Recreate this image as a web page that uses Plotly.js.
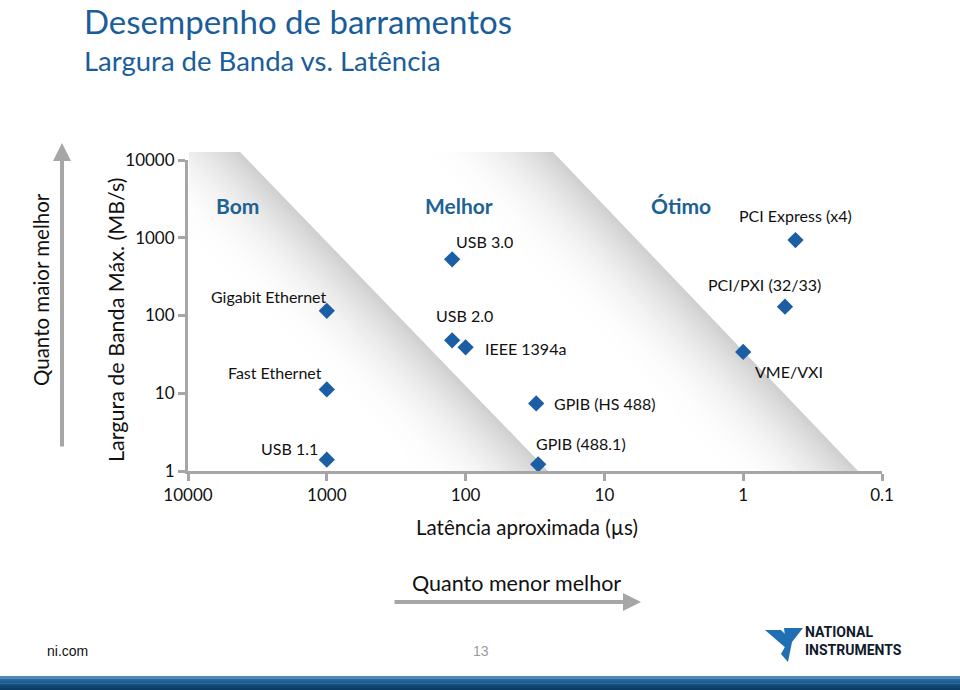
<!DOCTYPE html>
<html>
<head>
<meta charset="utf-8">
<script src="https://cdn.plot.ly/plotly-3.0.1.min.js"></script>
<style>
html,body{margin:0;padding:0;background:#ffffff;}
#chart{width:960px;height:690px;}
</style>
</head>
<body>
<div id="chart"></div>
<script>
// ---------------- DATA ----------------
const busNames = ['Gigabit Ethernet','Fast Ethernet','USB 1.1','USB 3.0','USB 2.0','IEEE 1394a',
                  'GPIB (HS 488)','GPIB (488.1)','PCI Express (x4)','PCI/PXI (32/33)','VME/VXI'];
const latencyUs = [1000, 1000, 1000, 125, 125, 100, 31, 30, 0.42, 0.5, 1];
const bandwidthMBs = [115, 11.2, 1.4, 528, 48, 39, 7.4, 1.22, 935, 130, 34];
const xTickVals = [10000, 1000, 100, 10, 1, 0.1];
const xTickText = ['10000', '1000', '100', '10', '1', '0.1'];
const yTickVals = [1, 10, 100, 1000, 10000];
const yTickText = ['1', '10', '100', '1000', '10000'];
const zoneNames = ['Bom', 'Melhor', 'Ótimo'];

// ---------------- PLACEMENT / STYLE ----------------
const FONT = 'Lato, "Open Sans", sans-serif';
const BLUE = '#1b5ea3';
const AXIS_GRAY = '#a6a6a6';
// label placement per point: [xanchor, xshift(px), yshift(px)]
const labelPlacement = [
  ['right', 2, 14], ['right', -3, 17], ['right', -7, 11],
  ['left', 2, 18], ['left', -18, 25], ['left', 17, -1],
  ['left', 16, 0], ['left', -4, 21],
  ['left', -58, 25], ['left', -79, 22], ['left', 10, -20]
];

// plot area in pixels
const PL = 188, PR = 882, PT = 160, PB = 471;
const W_ = PR - PL, H_ = PB - PT;
const px2x = px => (px - PL) / W_;
const py2y = py => (PB - py) / H_;

// ---------------- BACKGROUND BANDS (gradient strips) ----------------
function clipLeft(poly, xmin) {
  const out = [];
  for (let i = 0; i < poly.length; i++) {
    const a = poly[i], b = poly[(i + 1) % poly.length];
    const ain = a[0] >= xmin, bin = b[0] >= xmin;
    if (ain) out.push(a);
    if (ain !== bin) {
      const t = (xmin - a[0]) / (b[0] - a[0]);
      out.push([xmin, a[1] + t * (b[1] - a[1])]);
    }
  }
  return out;
}
const shapes = [];
const bandEdges = [[240, 548], [553, 858]]; // x at top / bottom in px
const bandTop = 152, bandBot = PB;
const N = 48, GW = 125;
bandEdges.forEach(([xt, xb]) => {
  for (let i = 0; i < N; i++) {
    const d0 = GW * i / N, d1 = GW * (i + 1) / N + 0.6;
    const dm = (d0 + d1) / 2;
    const k = Math.pow(Math.max(0, 1 - dm / GW), 2.0);
    const g = Math.round(254 - 48 * k);
    let poly = [[xt - d1, bandTop], [xt - d0, bandTop], [xb - d0, bandBot], [xb - d1, bandBot]];
    poly = clipLeft(poly, PL + 1);
    if (poly.length < 3) continue;
    const path = 'M' + poly.map(p => px2x(p[0]).toFixed(5) + ',' + py2y(p[1]).toFixed(5)).join('L') + 'Z';
    shapes.push({type: 'path', xref: 'paper', yref: 'paper', path: path,
      fillcolor: 'rgb(' + g + ',' + g + ',' + g + ')', line: {width: 0}, layer: 'below'});
  }
});

// footer bar
const barCols = ['#4d89bb', '#2a6aa0', '#1f5c91', '#174f82', '#104573', '#0b3c66'];
barCols.forEach((c, i) => {
  shapes.push({type: 'rect', xref: 'paper', yref: 'paper',
    x0: px2x(0), x1: px2x(960), y0: py2y(676 + i * 2.4), y1: py2y(676 + (i + 1) * 2.4 + (i === barCols.length - 1 ? 10 : 0.3)),
    fillcolor: c, line: {width: 0}, layer: 'above'});
});
// NI logo mark (approximation)
function pathPx(pts) {
  return 'M' + pts.map(p => px2x(p[0]).toFixed(5) + ',' + py2y(p[1]).toFixed(5)).join('L') + 'Z';
}
shapes.push({type: 'path', xref: 'paper', yref: 'paper', fillcolor: '#1f6fb2', line: {width: 0},
  path: pathPx([[765, 630], [781, 630], [792, 641], [787, 649]])});
shapes.push({type: 'path', xref: 'paper', yref: 'paper', fillcolor: '#1f6fb2', line: {width: 0},
  path: pathPx([[784, 628], [803, 628], [792, 642], [788, 662], [781, 654], [786, 645]])});

// ---------------- ANNOTATIONS ----------------
const annotations = [];
busNames.forEach((n, i) => {
  const [xa, xs, ys] = labelPlacement[i];
  annotations.push({
    x: Math.log10(latencyUs[i]), y: Math.log10(bandwidthMBs[i]), xref: 'x', yref: 'y',
    text: n, showarrow: false, xanchor: xa, yanchor: 'middle', xshift: xs, yshift: ys,
    font: {family: FONT, size: 16, color: '#111111'}
  });
});
const zoneX = [237.5, 459, 681];
zoneNames.forEach((z, i) => {
  annotations.push({x: px2x(zoneX[i]), y: py2y(205.5), xref: 'paper', yref: 'paper', text: '<b>' + z + '</b>',
    showarrow: false, xanchor: 'center', yanchor: 'middle', font: {family: FONT, size: 21, color: '#1d6294'}});
});
// axis titles
annotations.push({x: px2x(116), y: py2y(320), xref: 'paper', yref: 'paper', text: 'Largura de Banda Máx. (MB/s)',
  textangle: -90, showarrow: false, xanchor: 'center', yanchor: 'middle', font: {family: FONT, size: 21.5, color: '#111111'}});
annotations.push({x: px2x(41), y: py2y(290), xref: 'paper', yref: 'paper', text: 'Quanto maior melhor',
  textangle: -90, showarrow: false, xanchor: 'center', yanchor: 'middle', font: {family: FONT, size: 20.5, color: '#111111'}});
annotations.push({x: px2x(527), y: py2y(527), xref: 'paper', yref: 'paper', text: 'Latência aproximada (µs)',
  showarrow: false, xanchor: 'center', yanchor: 'middle', font: {family: FONT, size: 20.5, color: '#111111'}});
annotations.push({x: px2x(516), y: py2y(583), xref: 'paper', yref: 'paper', text: 'Quanto menor melhor',
  showarrow: false, xanchor: 'center', yanchor: 'middle', font: {family: FONT, size: 21.5, color: '#111111'}});
// arrows
annotations.push({x: px2x(62), y: py2y(143), xref: 'paper', yref: 'paper', text: '', showarrow: true,
  ax: 0, ay: 305, arrowcolor: AXIS_GRAY, arrowwidth: 4, arrowhead: 2, arrowsize: 0.9, standoff: 0});
annotations.push({x: px2x(641), y: py2y(602), xref: 'paper', yref: 'paper', text: '', showarrow: true,
  ax: -248, ay: 0, arrowcolor: AXIS_GRAY, arrowwidth: 4, arrowhead: 2, arrowsize: 0.9, standoff: 0});
// title and subtitle
annotations.push({x: px2x(82), y: py2y(21), xref: 'paper', yref: 'paper', text: 'Desempenho de barramentos',
  showarrow: false, xanchor: 'left', yanchor: 'middle', font: {family: FONT, size: 33, color: '#1a5d9b'}});
annotations.push({x: px2x(82), y: py2y(60), xref: 'paper', yref: 'paper', text: 'Largura de Banda vs. Latência',
  showarrow: false, xanchor: 'left', yanchor: 'middle', font: {family: FONT, size: 27.5, color: '#1a5d9b'}});
// footer
annotations.push({x: px2x(45), y: py2y(651), xref: 'paper', yref: 'paper', text: 'ni.com',
  showarrow: false, xanchor: 'left', yanchor: 'middle', font: {family: 'Liberation Sans, Arial, sans-serif', size: 14, color: '#111111'}});
annotations.push({x: px2x(481), y: py2y(651), xref: 'paper', yref: 'paper', text: '13',
  showarrow: false, xanchor: 'center', yanchor: 'middle', font: {family: 'Liberation Sans, Arial, sans-serif', size: 14, color: '#9a9a9a'}});
annotations.push({x: px2x(803), y: py2y(641), xref: 'paper', yref: 'paper', text: '<b>NATIONAL</b><br><b>INSTRUMENTS</b>',
  showarrow: false, xanchor: 'left', yanchor: 'middle', align: 'left', font: {family: 'Roboto, sans-serif', size: 14, color: '#111a2a'}});

// ---------------- TRACE ----------------
const trace = {
  type: 'scatter', mode: 'markers', x: latencyUs, y: bandwidthMBs, text: busNames,
  marker: {symbol: 'diamond', size: 12.5, color: BLUE, line: {width: 0}},
  cliponaxis: false, hoverinfo: 'text+x+y', showlegend: false
};

const axisCommon = {
  type: 'log', showline: true, linecolor: AXIS_GRAY, linewidth: 3, ticks: 'outside', ticklen: 7,
  tickwidth: 3, tickcolor: AXIS_GRAY, showgrid: false, zeroline: false, fixedrange: true,
  tickfont: {family: FONT, size: 17, color: '#111111'}
};

const layout = {
  width: 960, height: 690,
  margin: {l: PL, r: 960 - PR, t: PT, b: 690 - PB, pad: 0},
  paper_bgcolor: '#ffffff', plot_bgcolor: 'rgba(0,0,0,0)',
  xaxis: Object.assign({}, axisCommon, {autorange: false, range: [4, -1], tickvals: xTickVals, ticktext: xTickText}),
  yaxis: Object.assign({}, axisCommon, {autorange: false, range: [0, 4], tickvals: yTickVals, ticktext: yTickText}),
  shapes: shapes, annotations: annotations, showlegend: false
};

Plotly.newPlot('chart', [trace], layout, {displayModeBar: false, staticPlot: true});
</script>
</body>
</html>
